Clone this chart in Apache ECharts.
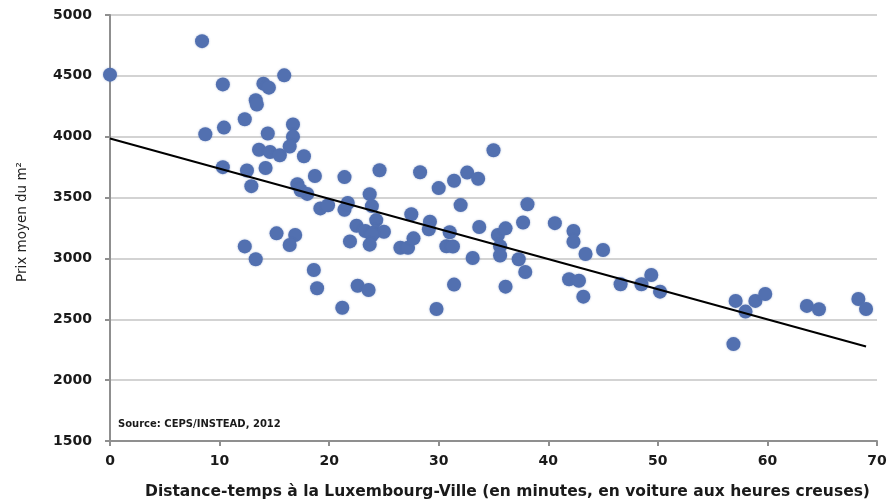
<!DOCTYPE html>
<html>
<head>
<meta charset="utf-8">
<script src="https://cdn.jsdelivr.net/npm/echarts@6/dist/echarts.min.js"></script>
<style>
html,body{margin:0;padding:0;background:#fff;}
#chart{width:891px;height:499px;}
</style>
</head>
<body>
<div id="chart"></div>
<script>
// Distance-temps (minutes)
var distance = [0, 8.4, 8.7, 10.3, 10.4, 10.3, 12.3, 12.5, 12.9, 12.3, 13.3, 13.3, 13.4, 13.6, 14.0, 14.5, 14.4, 14.2, 14.6, 15.5,
  15.9, 15.2, 16.7, 16.7, 16.4, 16.9, 16.4, 17.7, 17.1, 17.4, 18.0, 18.7, 18.6, 18.9, 19.2, 19.9, 21.4, 21.4, 21.7, 21.9,
  22.5, 22.6, 21.2, 23.3, 23.7, 23.9, 24.3, 24.2, 25.0, 23.9, 23.7, 23.6, 24.6, 26.5, 27.2, 27.7, 27.5, 28.3, 29.2, 29.1,
  29.8, 30.0, 30.7, 31.3, 31.0, 31.4, 31.4, 32.0, 32.6, 33.6, 33.7, 33.1, 35.0, 35.4, 36.1, 35.6, 35.6, 36.1, 37.7, 38.1,
  37.3, 37.9, 40.6, 42.3, 42.3, 41.9, 42.8, 43.4, 43.2, 45.0, 46.6, 48.5, 49.4, 50.2, 56.9, 57.1, 58.0, 58.9, 59.8, 63.6,
  64.7, 68.3, 69.0];
// Prix moyen du m²
var prix = [4510, 4785, 4020, 4430, 4075, 3750, 4143, 3722, 3594, 3099, 2993, 4299, 4264, 3893, 4436, 4403, 4026, 3743, 3875, 3848,
  4504, 3206, 4100, 4000, 3920, 3192, 3110, 3840, 3610, 3560, 3530, 3677, 2905, 2755, 3411, 3437, 3668, 3400, 3455, 3140,
  3268, 2776, 2595, 3225, 3528, 3430, 3315, 3219, 3219, 3190, 3113, 2741, 3725, 3088, 3088, 3165, 3363, 3708, 3301, 3239,
  2585, 3578, 3100, 3098, 3215, 3638, 2785, 3438, 3705, 3655, 3258, 3003, 3889, 3192, 3247, 3100, 3024, 2768, 3295, 3445,
  2993, 2888, 3290, 3225, 3137, 2829, 2817, 3036, 2686, 3069, 2788, 2788, 2864, 2727, 2296, 2651, 2563, 2651, 2708, 2610,
  2583, 2667, 2585];
// Trend line end points
var trendX = [0, 69];
var trendY = [3985, 2276];

var xTicks = [0, 10, 20, 30, 40, 50, 60, 70];
var yTicks = [1500, 2000, 2500, 3000, 3500, 4000, 4500, 5000];

var xTitle = 'Distance-temps à la Luxembourg-Ville (en minutes, en voiture aux heures creuses)';
var yTitle = 'Prix moyen du m²';
var sourceText = 'Source: CEPS/INSTEAD, 2012';

var scatterData = distance.map(function (d, i) { return [d, prix[i]]; });
var trendData = trendX.map(function (d, i) { return [d, trendY[i]]; });

var chart = echarts.init(document.getElementById('chart'), null, {renderer: 'canvas'});
var fontFam = '"DejaVu Sans", "Liberation Sans", Arial, sans-serif';
chart.setOption({
  animation: false,
  backgroundColor: '#ffffff',
  grid: {left: 110, right: 14, top: 15, bottom: 58, containLabel: false, outerBoundsMode: 'none'},
  xAxis: {
    type: 'value',
    min: xTicks[0], max: xTicks[xTicks.length - 1], interval: 10,
    name: xTitle,
    nameLocation: 'middle',
    nameGap: 43,
    nameTextStyle: {fontFamily: fontFam, fontWeight: 'bold', fontSize: 15.5, color: '#1a1a1a', padding: [0, 0, 0, 28]},
    axisLine: {show: true, lineStyle: {color: '#8f8f8f', width: 2}},
    axisTick: {show: true, length: 5, lineStyle: {color: '#8f8f8f', width: 2}},
    axisLabel: {fontFamily: fontFam, fontWeight: 'bold', fontSize: 14, color: '#1a1a1a', margin: 13},
    splitLine: {show: false}
  },
  yAxis: {
    type: 'value',
    min: yTicks[0], max: yTicks[yTicks.length - 1], interval: 500,
    name: yTitle,
    nameLocation: 'middle',
    nameGap: 81,
    nameRotate: 90,
    nameTextStyle: {fontFamily: fontFam, fontSize: 13.5, color: '#222', padding: [0, 0, 0, 12]},
    axisLine: {show: true, lineStyle: {color: '#8f8f8f', width: 2}},
    axisTick: {show: true, length: 5, lineStyle: {color: '#8f8f8f', width: 2}},
    axisLabel: {fontFamily: fontFam, fontWeight: 'bold', fontSize: 14, color: '#1a1a1a', margin: 18,
      formatter: function (v) { return String(v); }},
    splitLine: {show: true, lineStyle: {color: '#d3d3d3', width: 2}}
  },
  graphic: [{
    type: 'text', left: 118, top: 419,
    style: {text: sourceText, font: 'bold 10px ' + fontFam, fill: '#1a1a1a'}
  }],
  series: [
    {
      type: 'scatter',
      data: scatterData,
      symbolSize: 14,
      itemStyle: {color: '#5270b0', opacity: 1, shadowBlur: 2, shadowColor: 'rgba(82,112,176,0.5)'},
      z: 2
    },
    {
      type: 'line',
      data: trendData,
      symbol: 'none',
      lineStyle: {color: '#000', width: 2},
      z: 3
    }
  ]
});
</script>
</body>
</html>
